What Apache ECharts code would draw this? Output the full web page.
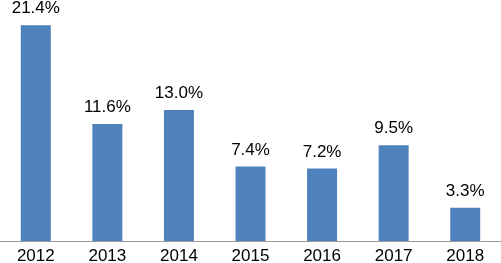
<!DOCTYPE html>
<html>
<head>
<meta charset="utf-8">
<script src="https://cdn.jsdelivr.net/npm/echarts@6/dist/echarts.min.js"></script>
<style>
  html, body { margin: 0; padding: 0; background: #fff; }
  #chart { width: 501px; height: 263px; }
</style>
</head>
<body>
<div id="chart"></div>
<script>
const years = ['2012', '2013', '2014', '2015', '2016', '2017', '2018'];
const growth = [21.4, 11.6, 13.0, 7.4, 7.2, 9.5, 3.3];

const chart = echarts.init(document.getElementById('chart'));

const option = {
  animation: false,
  textStyle: { fontFamily: '"Liberation Sans", Arial, sans-serif' },
  grid: { left: 0, right: 0, top: 0, bottom: 22, outerBoundsMode: 'none', containLabel: false },
  xAxis: {
    type: 'category',
    data: years,
    axisLine: { lineStyle: { color: '#9a9a9a', width: 1 } },
    axisTick: { show: false },
    axisLabel: { color: '#000', fontSize: 17, margin: 7 }
  },
  yAxis: {
    type: 'value',
    min: 0,
    max: 23.9,
    show: false,
    splitLine: { show: false }
  },
  series: [
    {
      type: 'bar',
      data: growth,
      barWidth: 30,
      itemStyle: { color: '#4F81BD' },
      label: {
        show: true,
        position: 'top',
        distance: 8,
        color: '#000',
        fontSize: 17,
        formatter: p => p.value.toFixed(1) + '%'
      }
    }
  ]
};

chart.setOption(option);
</script>
</body>
</html>
